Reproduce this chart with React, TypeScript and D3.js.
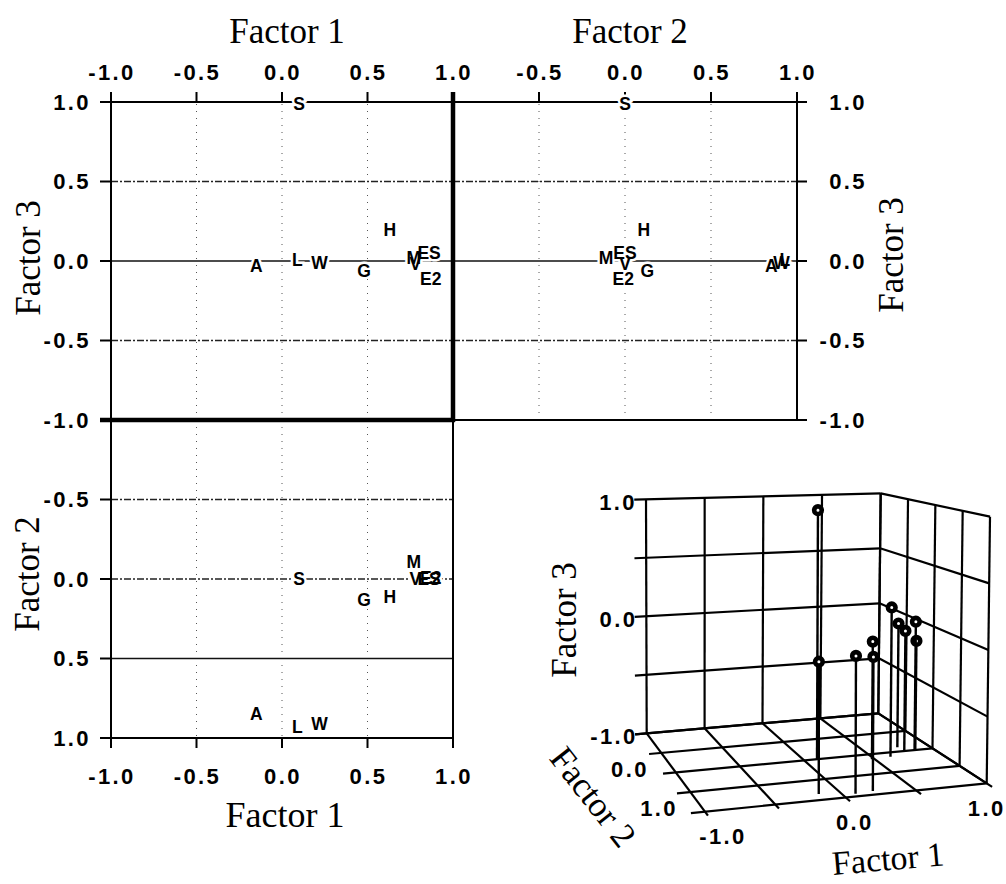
import React from "react";
import * as d3 from "d3";

// Factor loadings of each variable on the three factors
const variables = ["S", "A", "L", "W", "G", "H", "M", "V", "ES", "E2"];
const factor1 = [0.1, -0.15, 0.09, 0.22, 0.48, 0.63, 0.77, 0.78, 0.86, 0.87];
const factor2 = [0.0, 0.85, 0.93, 0.91, 0.13, 0.11, -0.11, 0.0, 0.0, -0.01];
const factor3 = [0.99, -0.03, 0.01, -0.01, -0.06, 0.2, 0.02, -0.02, 0.05, -0.11];

const axisTicks = [-1, -0.5, 0, 0.5, 1];
const gridTicks = [-0.5, 0, 0.5];
const cubeTicks = [-1, 0, 1];

const W = 1006;
const H = 884;

const TICK_FONT = "'Liberation Sans', Arial, Helvetica, sans-serif";
const TITLE_FONT = "'Liberation Serif', 'Times New Roman', serif";
const fmt = d3.formatLocale({ decimal: ".", thousands: ",", grouping: [3], currency: ["", ""], minus: "-" }).format(".1f");

// 2D panel scales
const xF1 = d3.scaleLinear().domain([-1, 1]).range([111, 453]);
const yF3 = d3.scaleLinear().domain([-1, 1]).range([420, 102]);
const xF2 = d3.scaleLinear().domain([-1, 1]).range([453, 797]);
const yF2 = d3.scaleLinear().domain([-1, 1]).range([420, 738]);

// 3D box: screen positions of the eight corners, indexed [f1][f2][f3] (0 = -1, 1 = +1)
const corners: [number, number][][][] = [
  [
    [[646.7, 733.3], [646, 499.3]],
    [[705, 811.7], [703, 528]],
  ],
  [
    [[878.3, 713.3], [880.7, 493.3]],
    [[986.7, 783.3], [990, 516.7]],
  ],
];
const unit = d3.scaleLinear().domain([-1, 1]).range([0, 1]);

function project(f1: number, f2: number, f3: number): [number, number] {
  const u = unit(f1), v = unit(f2), w = unit(f3);
  const out: [number, number] = [0, 0];
  for (let i = 0; i < 2; i++)
    for (let j = 0; j < 2; j++)
      for (let k = 0; k < 2; k++) {
        const wt = (i ? u : 1 - u) * (j ? v : 1 - v) * (k ? w : 1 - w);
        out[0] += wt * corners[i][j][k][0];
        out[1] += wt * corners[i][j][k][1];
      }
  return out;
}

const tickText = {
  fontFamily: TICK_FONT,
  fontWeight: 700,
  fontSize: 22,
  letterSpacing: "2.4px",
  fill: "#000",
} as const;

const dashStyle = { stroke: "#222", strokeWidth: 1.3, strokeDasharray: "7 2 2 2" };
const solidStyle = { stroke: "#111", strokeWidth: 1.5 };
const dotStyle = { stroke: "#555", strokeWidth: 1, strokeDasharray: "1 6" };

function Title({ x, y, rotate = 0, size = 35, children }: any) {
  return (
    <text
      transform={`translate(${x},${y}) rotate(${rotate})`}
      textAnchor="middle"
      dy="0.33em"
      fontFamily={TITLE_FONT}
      fontSize={size}
      fill="#000"
    >
      {children}
    </text>
  );
}

function PointLabels({ xs, ys, sx, sy }: any) {
  const common = {
    fontFamily: TICK_FONT,
    fontWeight: 700,
    fontSize: 17.5,
    textAnchor: "middle" as const,
    dy: "0.36em",
  };
  return (
    <g>
      {variables.map((name, i) => (
        <text key={"h" + name} x={sx(xs[i])} y={sy(ys[i])} {...common} fill="#fff" stroke="#fff" strokeWidth={5}>
          {name}
        </text>
      ))}
      {variables.map((name, i) => (
        <text key={name} x={sx(xs[i])} y={sy(ys[i])} {...common} fill="#000">
          {name}
        </text>
      ))}
    </g>
  );
}

function Grid({ sx, sy, hStyles }: any) {
  const [x0, x1] = sx.range();
  const [y0, y1] = sy.range();
  return (
    <g>
      {gridTicks.map((t) => (
        <line key={"v" + t} x1={sx(t)} x2={sx(t)} y1={y0} y2={y1} {...dotStyle} />
      ))}
      {gridTicks.map((t) => (
        <line key={"h" + t} x1={x0} x2={x1} y1={sy(t)} y2={sy(t)} {...hStyles[String(t)]} />
      ))}
    </g>
  );
}

function Cube() {
  const lines: [number, number, number, number, number, number][] = [];
  // back wall (factor 2 = -1)
  axisTicks.forEach((t) => lines.push([t, -1, -1, t, -1, 1]));
  axisTicks.forEach((t) => lines.push([-1.1, -1, t, 1, -1, t]));
  // right wall (factor 1 = 1)
  axisTicks.forEach((t) => lines.push([1, t, -1, 1, t, 1]));
  axisTicks.forEach((t) => lines.push([1, -1, t, 1, 1, t]));
  // floor (factor 3 = -1)
  axisTicks.forEach((t) => lines.push([t, -1, -1, t, 1.1, -1]));
  axisTicks.forEach((t) => lines.push([-1.1, t, -1, 1, t, -1]));

  const order = d3.range(variables.length).sort((a, b) => factor2[a] - factor2[b]);

  return (
    <g>
      {lines.map((l, i) => {
        const a = project(l[0], l[1], l[2]);
        const b = project(l[3], l[4], l[5]);
        return <line key={i} x1={a[0]} y1={a[1]} x2={b[0]} y2={b[1]} stroke="#000" strokeWidth={2.2} />;
      })}
      {order.map((i) => {
        const p = project(factor1[i], factor2[i], factor3[i]);
        const base = project(factor1[i], factor2[i], -1);
        return (
          <g key={variables[i]}>
            <line x1={base[0]} y1={base[1]} x2={p[0]} y2={p[1]} stroke="#000" strokeWidth={2.4} />
            <circle cx={p[0]} cy={p[1]} r={3.8} fill="#fff" stroke="#000" strokeWidth={4.6} />
          </g>
        );
      })}
      {/* factor 3 tick labels */}
      {cubeTicks.map((t) => {
        const p = project(-1, -1, t);
        return (
          <text key={"z" + t} x={p[0] - 9} y={p[1] + 3} dy="0.35em" textAnchor="end" {...tickText}>
            {fmt(t)}
          </text>
        );
      })}
      {/* factor 2 tick labels (the -1.0 is shared with factor 3) */}
      {cubeTicks.slice(1).map((t) => {
        const p = project(-1, t, -1);
        return (
          <text key={"y" + t} x={p[0] - 27} y={p[1] - 3} dy="0.35em" textAnchor="end" {...tickText}>
            {fmt(t)}
          </text>
        );
      })}
      {/* factor 1 tick labels */}
      {cubeTicks.map((t) => {
        const p = project(t, 1, -1);
        return (
          <text key={"x" + t} x={p[0] + 9 - 9 * t} y={p[1] + 25} dy="0.35em" textAnchor="middle" {...tickText}>
            {fmt(t)}
          </text>
        );
      })}
      <Title x={564} y={620} rotate={-90}>Factor 3</Title>
      <Title x={593} y={797} rotate={52}>Factor 2</Title>
      <Title x={888} y={859} rotate={-5} size={34}>Factor 1</Title>
    </g>
  );
}

export default function App() {
  const axisLine = { stroke: "#000", strokeWidth: 2 };
  const thick = { stroke: "#000", strokeWidth: 4.5 };
  const topStyles = { "-0.5": dashStyle, "0": solidStyle, "0.5": dashStyle };
  const bottomStyles = { "-0.5": dashStyle, "0": dashStyle, "0.5": solidStyle };

  return (
    <svg width={W} height={H} style={{ display: "block", position: "absolute", left: 0, top: 0, background: "#fff" }}>
      <rect width={W} height={H} fill="#fff" />

      {/* ---- top-left: Factor 1 vs Factor 3 ---- */}
      <Grid sx={xF1} sy={yF3} hStyles={topStyles} />
      {/* ---- top-right: Factor 2 vs Factor 3 ---- */}
      <Grid sx={xF2} sy={yF3} hStyles={topStyles} />
      {/* ---- bottom-left: Factor 1 vs Factor 2 ---- */}
      <Grid sx={xF1} sy={yF2} hStyles={bottomStyles} />

      {/* top axis, both upper panels */}
      <line x1={100} x2={797} y1={yF3(1)} y2={yF3(1)} {...axisLine} />
      {axisTicks.map((t) => (
        <line key={"ta" + t} x1={xF1(t)} x2={xF1(t)} y1={yF3(1)} y2={yF3(1) - 10} {...axisLine} />
      ))}
      {axisTicks.map((t) => (
        <line key={"tb" + t} x1={xF2(t)} x2={xF2(t)} y1={yF3(1)} y2={yF3(1) - 10} {...axisLine} />
      ))}
      {axisTicks.map((t) => (
        <text key={"tla" + t} x={xF1(t) + 1} y={80} textAnchor="middle" {...tickText}>
          {fmt(t)}
        </text>
      ))}
      {axisTicks.slice(1).map((t) => (
        <text key={"tlb" + t} x={xF2(t) + 1} y={80} textAnchor="middle" {...tickText}>
          {fmt(t)}
        </text>
      ))}

      {/* left axis */}
      <line x1={xF1(-1)} x2={xF1(-1)} y1={92} y2={748} {...axisLine} />
      {axisTicks.map((t) => (
        <line key={"la" + t} x1={100} x2={xF1(-1)} y1={yF3(t)} y2={yF3(t)} {...axisLine} />
      ))}
      {axisTicks.map((t) => (
        <line key={"lb" + t} x1={100} x2={xF1(-1)} y1={yF2(t)} y2={yF2(t)} {...axisLine} />
      ))}
      {axisTicks.map((t) => (
        <text key={"lla" + t} x={91} y={yF3(t)} dy="0.35em" textAnchor="end" {...tickText}>
          {fmt(t)}
        </text>
      ))}
      {axisTicks.slice(1).map((t) => (
        <text key={"llb" + t} x={91} y={yF2(t)} dy="0.35em" textAnchor="end" {...tickText}>
          {fmt(t)}
        </text>
      ))}

      {/* right axis of the upper-right panel */}
      <line x1={xF2(1)} x2={xF2(1)} y1={92} y2={yF3(-1)} {...axisLine} />
      <line x1={xF2(-1)} x2={xF2(1)} y1={yF3(-1)} y2={yF3(-1)} {...axisLine} />
      {axisTicks.map((t) => (
        <line key={"ra" + t} x1={xF2(1)} x2={xF2(1) + 10} y1={yF3(t)} y2={yF3(t)} {...axisLine} />
      ))}
      {axisTicks.map((t) => (
        <text key={"rl" + t} x={867} y={yF3(t)} dy="0.35em" textAnchor="end" {...tickText}>
          {fmt(t)}
        </text>
      ))}

      {/* bottom axis of the lower-left panel */}
      <line x1={100} x2={xF1(1)} y1={yF2(1)} y2={yF2(1)} {...axisLine} />
      <line x1={xF1(1)} x2={xF1(1)} y1={yF2(-1)} y2={yF2(1) + 10} {...axisLine} />
      {axisTicks.map((t) => (
        <line key={"ba" + t} x1={xF1(t)} x2={xF1(t)} y1={yF2(1)} y2={yF2(1) + 10} {...axisLine} />
      ))}
      {axisTicks.map((t) => (
        <text key={"bl" + t} x={xF1(t) + 1} y={784} textAnchor="middle" {...tickText}>
          {fmt(t)}
        </text>
      ))}

      {/* heavy dividers between the panels */}
      <line x1={xF1(1)} x2={xF1(1)} y1={92} y2={yF3(-1) + 2} {...thick} />
      <line x1={100} x2={xF1(1) + 2} y1={yF3(-1)} y2={yF3(-1)} {...thick} />

      {/* variable labels */}
      <PointLabels xs={factor1} ys={factor3} sx={xF1} sy={yF3} />
      <PointLabels xs={factor2} ys={factor3} sx={xF2} sy={yF3} />
      <PointLabels xs={factor1} ys={factor2} sx={xF1} sy={yF2} />

      {/* axis titles */}
      <Title x={287} y={31}>Factor 1</Title>
      <Title x={630} y={31}>Factor 2</Title>
      <Title x={28} y={258} rotate={-90}>Factor 3</Title>
      <Title x={891} y={255} rotate={-90}>Factor 3</Title>
      <Title x={27} y={574} rotate={-90}>Factor 2</Title>
      <Title x={285} y={815} size={36}>Factor 1</Title>

      {/* 3D view */}
      <Cube />
    </svg>
  );
}
